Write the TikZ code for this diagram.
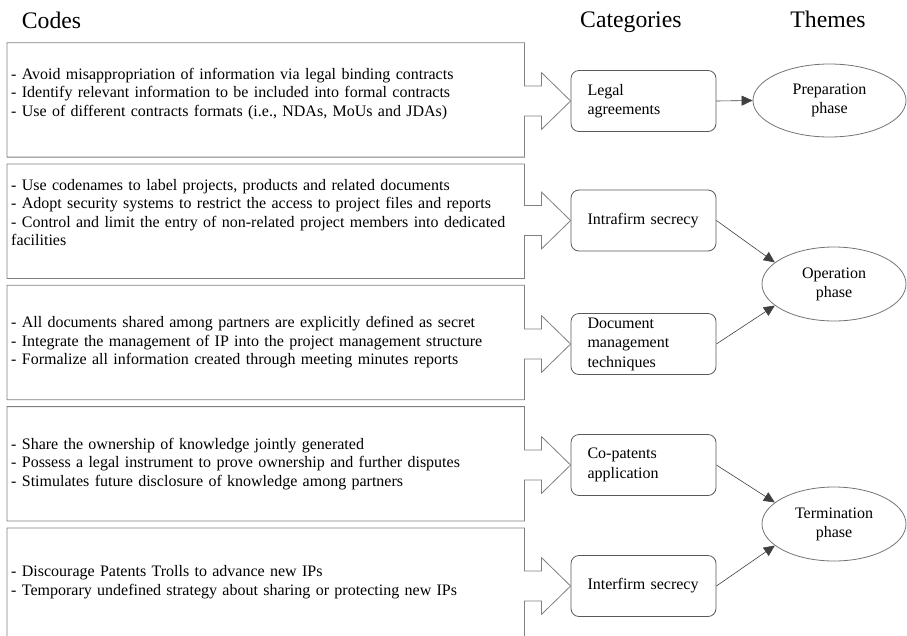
\documentclass[tikz,border=0pt]{standalone}
\usepackage{fontspec}
\setmainfont{Liberation Serif}
\usetikzlibrary{arrows.meta,calc,shapes.geometric}

\tikzset{
	codebox/.style={rectangle, anchor=north west, minimum width=517pt, minimum height=114pt,
		text width=509pt, inner xsep=4pt, inner ysep=0pt, align=left,
		font=\fontsize{16}{18.5}\selectfont},
	lift/.style={text depth=#1},
	codeline/.style={draw=black!50, line width=0.8pt, line join=miter},
	catbox/.style={draw=black!65, line width=0.8pt, rounded corners=8pt,
		minimum width=145pt, minimum height=61pt, text width=112pt, inner xsep=16.5pt,
		align=left, font=\fontsize{16}{19.5}\selectfont},
	theme/.style={ellipse, draw=black!55, line width=0.8pt, minimum width=144pt,
		minimum height=74pt, inner sep=0pt, align=center, font=\fontsize{16}{19}\selectfont},
	heading/.style={anchor=base west, inner sep=0pt, font=\fontsize{23.7}{28}\selectfont},
	link/.style={draw=black!75, line width=0.6pt, -{Triangle[length=11pt,width=10pt]}}
}

\begin{document}
\begin{tikzpicture}[x=1pt,y=-1pt]
	\clip (0,0) rectangle (907,635);

	\node[heading] (hcodes) at (21.7,28.3) {Codes};
	\node[heading] (hcats) at (580,27.3) {Categories};
	\node[heading, anchor=base] (hthemes) at (828,27.3) {Themes};

	% codes
	\node[codebox, lift=52.5pt] (code1) at (7,42.7) {- Avoid misappropriation of information via legal binding contracts\\
		- Identify relevant information to be included into formal contracts\\
		- Use of different contracts formats (i.e., NDAs, MoUs and JDAs)};
	\node[codebox, lift=73.5pt] (code2) at (7,164) {- Use codenames to label projects, products and related documents\\
		- Adopt security systems to restrict the access to project files and reports\\
		- Control and limit the entry of non-related project members into dedicated\\
		facilities};
	\node[codebox] (code3) at (7,285.3) {- All documents shared among partners are explicitly defined as secret\\
		- Integrate the management of IP into the project management structure\\
		- Formalize all information created through meeting minutes reports};
	\node[codebox] (code4) at (7,406.6) {- Share the ownership of knowledge jointly generated\\
		- Possess a legal instrument to prove ownership and further disputes\\
		- Stimulates future disclosure of knowledge among partners};
	\node[codebox, lift=28pt] (code5) at (7,527.9) {- Discourage Patents Trolls to advance new IPs\\
		- Temporary undefined strategy about sharing or protecting new IPs};

	% categories
	\node[catbox] (cat1) at (643.5,101) {Legal\\agreements};
	\node[catbox] (cat2) at (643.5,220.5) {Intrafirm secrecy};
	\node[catbox] (cat3) at (643.5,344) {Document\\management\\techniques};
	\node[catbox] (cat4) at (643.5,465) {Co-patents\\application};
	\node[catbox] (cat5) at (643.5,586) {Interfirm secrecy};

	% themes
	\node[theme, minimum width=153pt, minimum height=73pt] (prep) at (829.5,100.5) {Preparation\\phase};
	\node[theme] (oper) at (834,284) {Operation\\phase};
	\node[theme] (term) at (834,524) {Termination\\phase};

	% box outlines with block arrows
	\foreach \i in {1,...,5}
		\draw[codeline] (code\i.north west) -- (code\i.north east)
			-- ($(code\i.east |- cat\i.west)+(0,-15)$) -- ++(17,0) -- ++(0,-13.5)
			-- (cat\i.west)
			-- ($(code\i.east |- cat\i.west)+(17,28.5)$) -- ++(0,-13.5)
			-- ($(code\i.east |- cat\i.west)+(0,15)$)
			-- (code\i.south east) -- (code\i.south west) -- cycle;

	\draw[link] (cat1.east) -- (prep.west);
	\draw[link] (cat2.east) -- (oper.160);
	\draw[link] (cat3.east) -- (oper.200);
	\draw[link] (cat4.east) -- (term.160);
	\draw[link] (cat5.east) -- (term.200);
\end{tikzpicture}
\end{document}
